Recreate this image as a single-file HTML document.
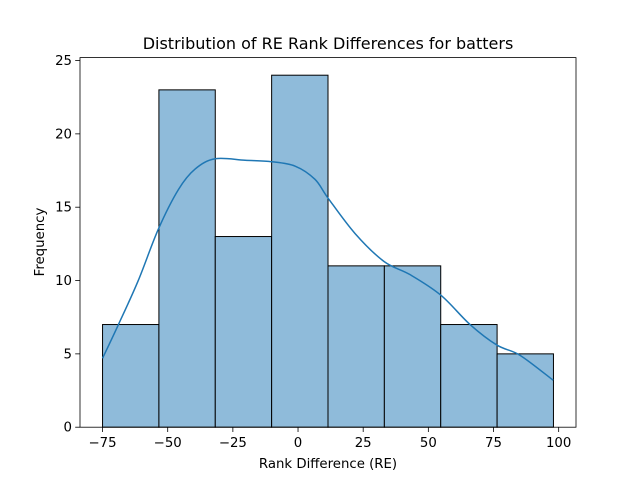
<!DOCTYPE html>
<html><head><meta charset="utf-8"><style>
body{margin:0;background:#fff}
svg text{font-family:"DejaVu Sans","Liberation Sans",sans-serif;fill:#000}
</style></head><body>
<svg width="640" height="480" xmlns="http://www.w3.org/2000/svg">
<rect width="640" height="480" fill="#fff"/>
<g id="bars"></g>
<g id="kde"></g>
<rect x="80" y="57.6" width="496" height="369.6" fill="none" stroke="#000" stroke-width="0.8"/>
<g id="xt"></g><g id="yt"></g>
<text x="328" y="49" font-size="16" text-anchor="middle">Distribution of RE Rank Differences for batters</text>
<text x="328" y="468" font-size="13.3" text-anchor="middle">Rank Difference (RE)</text>
<text x="44" y="242" font-size="13.3" text-anchor="middle" transform="rotate(-90 44 242)">Frequency</text>
</svg>
<script>
const binStart=-75, binEnd=98;
const counts=[7,23,13,24,11,11,7,5];
const kdeX=[-75,-68.9,-61.3,-53.6,-45.9,-39.5,-31.8,-20.3,-10.1,-1.1,6.5,11.6,21.9,33,43,54.8,66,76.3,85.2,97.9];
const kdeY=[4.7,7.0,10.0,13.5,16.2,17.6,18.3,18.2,18.1,17.8,16.9,15.6,13.2,11.3,10.4,9.0,7.0,5.6,4.9,3.2];
const xTicks=[-75,-50,-25,0,25,50,75,100];
const yTicks=[0,5,10,15,20,25];
const NS="http://www.w3.org/2000/svg";
const xmin=-83.65,xmax=106.65,ymax=25.2;
const X=v=>80+(v-xmin)/(xmax-xmin)*496;
const Y=v=>427.2-v/ymax*369.6;
function mk(t,a,p){const e=document.createElementNS(NS,t);for(const k in a)e.setAttribute(k,a[k]);p.appendChild(e);return e;}
const w=(binEnd-binStart)/counts.length;
const bg=document.getElementById('bars');
counts.forEach((c,i)=>{const x0=X(binStart+i*w),x1=X(binStart+(i+1)*w);
const r=mk('rect',{x:x0,y:Y(c),width:x1-x0,height:Y(0)-Y(c),fill:'#8fbbda',stroke:'#000','stroke-width':1},bg);

});
const pts=kdeX.map((x,i)=>[X(x),Y(kdeY[i])]);
let d='M'+pts[0][0]+' '+pts[0][1];
for(let i=0;i<pts.length-1;i++){const p0=pts[Math.max(0,i-1)],p1=pts[i],p2=pts[i+1],p3=pts[Math.min(pts.length-1,i+2)];
d+=' C'+(p1[0]+(p2[0]-p0[0])/6)+' '+(p1[1]+(p2[1]-p0[1])/6)+' '+(p2[0]-(p3[0]-p1[0])/6)+' '+(p2[1]-(p3[1]-p1[1])/6)+' '+p2[0]+' '+p2[1];}
const p=mk('path',{d:d,fill:'none',stroke:'#1f77b4','stroke-width':1.5,'stroke-linejoin':'round'},document.getElementById('kde'));


const xt=document.getElementById('xt');
xTicks.forEach(v=>{mk('line',{x1:X(v),x2:X(v),y1:427.2,y2:432,stroke:'#000','stroke-width':0.8},xt);
const t=mk('text',{x:X(v),y:447,'font-size':13.3,'text-anchor':'middle'},xt);t.textContent=v<0?'\u2212'+(-v):v;

});
const yt=document.getElementById('yt');
yTicks.forEach(v=>{mk('line',{x1:75.2,x2:80,y1:Y(v),y2:Y(v),stroke:'#000','stroke-width':0.8},yt);
const t=mk('text',{x:72,y:Y(v)+4.5,'font-size':13.3,'text-anchor':'end'},yt);t.textContent=v;

});
</script>
</body></html>
